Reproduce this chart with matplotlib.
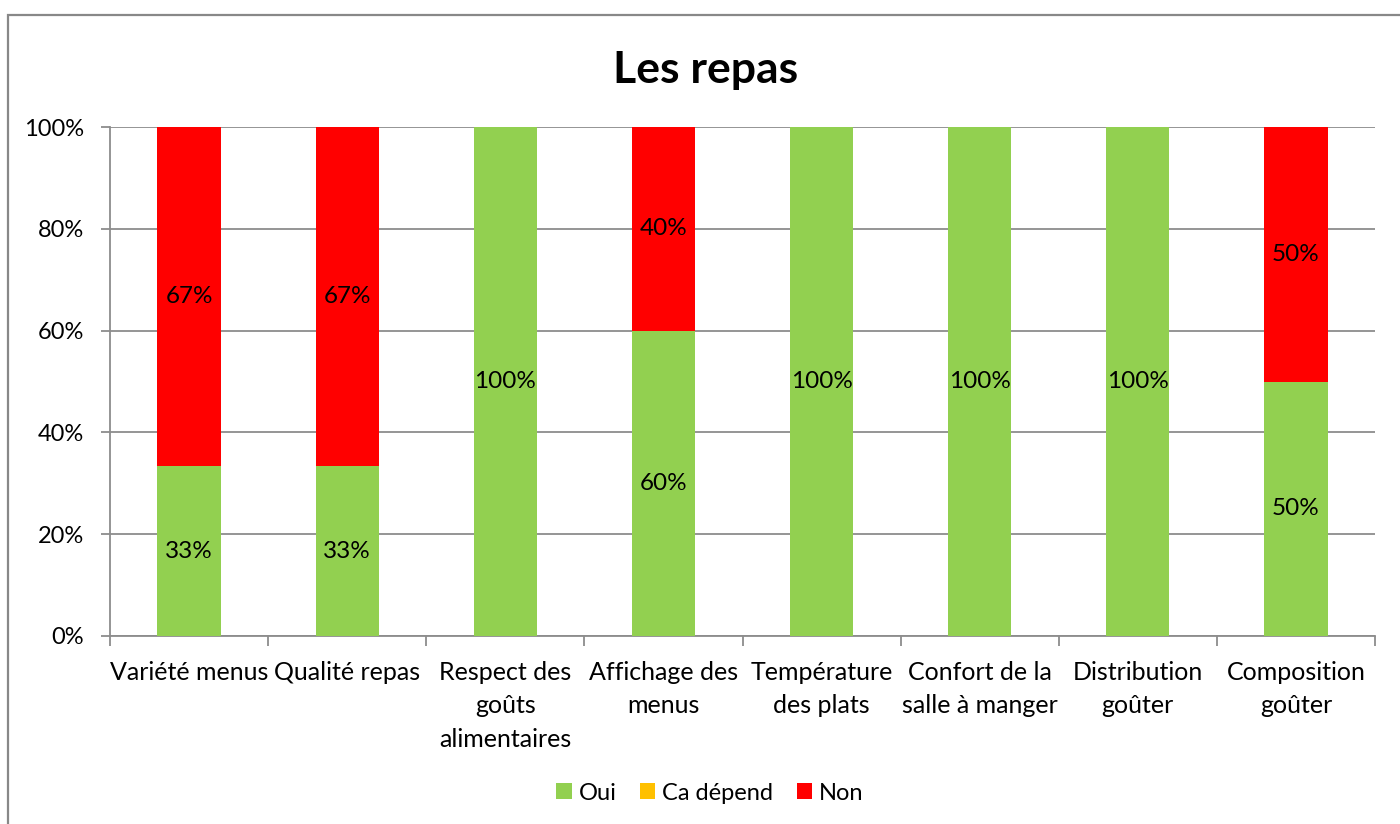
import matplotlib
matplotlib.use("Agg")
import matplotlib.pyplot as plt
from matplotlib.patches import Rectangle
import numpy as np

plt.rcParams['font.family'] = ['Lato', 'DejaVu Sans']

categories = ["Variété menus", "Qualité repas", "Respect des\ngoûts\nalimentaires",
              "Affichage des\nmenus", "Température\ndes plats", "Confort de la\nsalle à manger",
              "Distribution\ngoûter", "Composition\ngoûter"]
oui = [33.33, 33.33, 100, 60, 100, 100, 100, 50]
ca_depend = [0, 0, 0, 0, 0, 0, 0, 0]
non = [66.67, 66.67, 0, 40, 0, 0, 0, 50]
series_names = ["Oui", "Ca dépend", "Non"]
colors = ["#92D050", "#FFC000", "#FF0000"]
yticks = [0, 20, 40, 60, 80, 100]

fig = plt.figure(figsize=(14, 8.24), dpi=100)
ax = fig.add_axes([110/1400, 1-636/824, 1265/1400, 509/824])

x = np.arange(len(categories))
bottom = np.zeros(len(categories))
for name, vals, c in zip(series_names, [oui, ca_depend, non], colors):
    vals = np.array(vals, dtype=float)
    ax.bar(x, vals, width=0.4, bottom=bottom, color=c, label=name, zorder=3)
    for xi, b, v in zip(x, bottom, vals):
        if v > 0:
            ax.text(xi, b + v/2, f"{v:.0f}%", ha='center', va='center', fontsize=17.5, zorder=4)
    bottom += vals

ax.set_xlim(-0.5, len(categories) - 0.5)
ax.set_ylim(0, 100)
ax.set_yticks(yticks)
ax.set_yticklabels([f"{t}%" for t in yticks], fontsize=17)
ax.yaxis.grid(True, color='#8C8C8C', linewidth=1.3, zorder=0)
ax.set_axisbelow(True)
ax.tick_params(axis='y', length=6.5, width=1.3, color='#8C8C8C', pad=12)

ax.set_xticks(x)
ax.set_xticklabels(categories, fontsize=18, linespacing=1.55)
ax.tick_params(axis='x', length=0, pad=18)
ax.set_xticks(np.arange(len(categories) + 1) - 0.5, minor=True)
ax.tick_params(axis='x', which='minor', length=7, width=1.3, color='#8C8C8C')

for s in ['top', 'right']:
    ax.spines[s].set_visible(False)
for s in ['left', 'bottom']:
    ax.spines[s].set_color('#8C8C8C')
    ax.spines[s].set_linewidth(1.3)

fig.text(706/1400, 1-70/824, "Les repas", ha='center', va='center', fontsize=32, fontweight='bold')

handles, labels = ax.get_legend_handles_labels()
fig.legend(handles, labels, loc='center', bbox_to_anchor=(710/1400, 1-793/824), ncol=3,
           frameon=False, fontsize=17, handlelength=0.64, handleheight=0.64,
           handletextpad=0.3, columnspacing=1.0)

fig.add_artist(Rectangle((8/1400, -0.1), 1.2, 1.1 - 15/824, transform=fig.transFigure,
                         fill=False, edgecolor='#888888', linewidth=1.6, clip_on=False))

fig.savefig("out.png", dpi=100)
